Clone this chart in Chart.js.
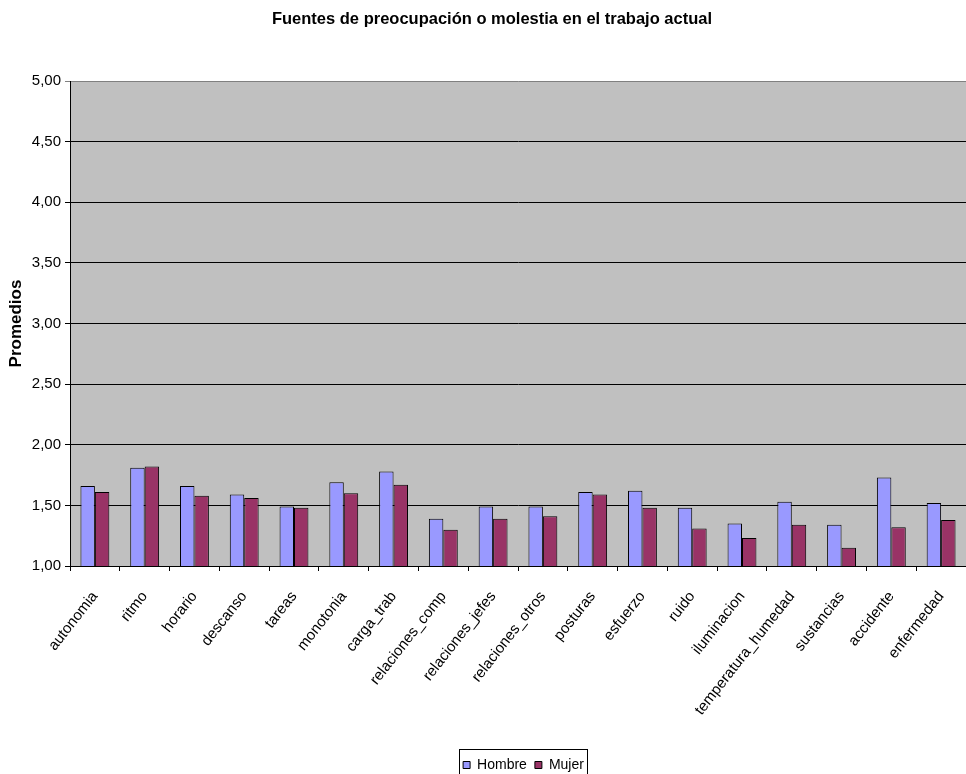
<!DOCTYPE html>
<html>
<head>
<meta charset="utf-8">
<script src="https://cdn.jsdelivr.net/npm/chart.js@4.4.1/dist/chart.umd.min.js"></script>
<style>
html,body{margin:0;padding:0;background:#fff;}
#wrap{width:966px;height:774px;}
</style>
</head>
<body>
<div id="wrap"><canvas id="c" width="966" height="774"></canvas></div>
<script>
const categories = ["autonomia","ritmo","horario","descanso","tareas","monotonia","carga_trab","relaciones_comp","relaciones_jefes","relaciones_otros","posturas","esfuerzo","ruido","iluminacion","temperatura_humedad","sustancias","accidente","enfermedad"];
const hombre = [1.66,1.81,1.66,1.59,1.49,1.69,1.78,1.39,1.49,1.49,1.61,1.62,1.48,1.35,1.53,1.34,1.73,1.52];
const mujer  = [1.61,1.82,1.58,1.56,1.48,1.60,1.67,1.30,1.39,1.41,1.59,1.48,1.31,1.23,1.34,1.15,1.32,1.38];
const seriesNames = ["Hombre","Mujer"];
const chartTitle = "Fuentes de preocupación o molestia en el trabajo actual";
const yTitle = "Promedios";
const yMin = 1, yMax = 5, yStep = 0.5;

const BASE = "'Liberation Sans', Arial, sans-serif";
const SZ = { tick: 15, xlab: 15, title: 16.5, legend: 14, ytitle: 17 };

Chart.defaults.font.family = BASE;
Chart.defaults.color = '#000';

const LEG_PAD = 8;
const plotBg = {
  id: 'plotBg',
  afterLayout(chart) {
    const lg = chart.legend;
    if (lg) {
      const dx = 523.5 - (lg.left + lg.right) / 2;
      lg.left += dx; lg.right += dx;
      const ih = lg._itemHeight || SZ.legend;
      const dy = 765 - (lg.top + LEG_PAD + ih / 2);
      lg.top += dy; lg.bottom += dy;
    }
    const tb = chart.titleBlock;
    if (tb) { tb.left += 9; tb.right += 9; }
  },
  beforeDraw(chart) {
    const a = chart.chartArea, ctx = chart.ctx;
    ctx.save();
    ctx.fillStyle = '#C0C0C0';
    ctx.fillRect(a.left, a.top, a.right - a.left, a.bottom - a.top);
    ctx.restore();
  },
  afterDraw(chart) {
    const lg = chart.legend;
    if (!lg || !lg.lineWidths) return;
    const lw = lg.lineWidths[0];
    const x0 = (lg.left + LEG_PAD + lg.right - lw) / 2;
    const l = Math.round(x0 - 4), r = Math.round(x0 + lw - LEG_PAD + 3);
    const ih = lg._itemHeight || SZ.legend;
    const t = Math.round(lg.top + LEG_PAD + ih / 2 - 16);
    const ctx = chart.ctx;
    ctx.save();
    ctx.strokeStyle = '#000';
    ctx.lineWidth = 1;
    ctx.strokeRect(l + 0.5, t + 0.5, r - l, 40);
    ctx.restore();
  }
};

new Chart(document.getElementById('c'), {
  type: 'bar',
  data: {
    labels: categories,
    datasets: [
      { label: seriesNames[0], data: hombre, backgroundColor: '#9999FF', borderColor: '#000', borderWidth: 1, borderSkipped: 'bottom', barPercentage: 1.0, categoryPercentage: 0.58 },
      { label: seriesNames[1], data: mujer, backgroundColor: '#993366', borderColor: '#000', borderWidth: 1, borderSkipped: 'bottom', barPercentage: 1.0, categoryPercentage: 0.58 }
    ]
  },
  plugins: [plotBg],
  options: {
    responsive: false,
    animation: false,
    devicePixelRatio: 1,
    layout: { padding: { left: 0, right: 0, top: 0, bottom: 0 } },
    plugins: {
      title: {
        display: true,
        text: chartTitle,
        font: { size: SZ.title, weight: 'bold', family: BASE, lineHeight: 1.2 },
        color: '#000',
        padding: { top: 10, bottom: 51.2 }
      },
      legend: {
        display: true,
        position: 'bottom',
        labels: {
          boxWidth: 7,
          boxHeight: 7,
          padding: LEG_PAD,
          color: '#000',
          font: { size: SZ.legend, family: BASE }
        }
      },
      tooltip: { enabled: false }
    },
    scales: {
      x: {
        grid: { display: true, drawOnChartArea: false, drawTicks: true, tickLength: 5, color: '#000', offset: true },
        border: { display: true, color: '#000', width: 1 },
        ticks: { minRotation: 52, maxRotation: 52, autoSkip: false, color: '#000', font: { size: SZ.xlab, family: BASE }, padding: 17 },
        afterFit(scale) {
          const lh = scale.chart.legend ? scale.chart.legend.height : 33;
          scale.height = 774 - 566 - lh;
          scale.paddingLeft = 0;
          scale.paddingRight = 0;
        }
      },
      y: {
        min: yMin, max: yMax,
        grid: {
          color: (c) => (c.tick && c.tick.value === yMax) ? '#808080' : '#000',
          drawTicks: true, tickLength: 5
        },
        border: { display: true, color: '#000', width: 1 },
        ticks: {
          stepSize: yStep, color: '#000', font: { size: SZ.tick, family: BASE }, padding: 4,
          callback: (v) => Number(v).toFixed(2).replace('.', ',')
        },
        title: { display: true, text: yTitle, font: { size: SZ.ytitle, weight: 'bold', family: BASE, lineHeight: 1.2 }, color: '#000', padding: { top: 6, bottom: 0 } },
        afterFit(scale) { scale.width = 70; }
      }
    }
  }
});
</script>
</body>
</html>
